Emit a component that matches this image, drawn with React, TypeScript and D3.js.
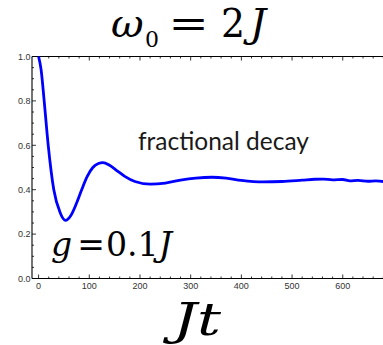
import React from "react";
import * as d3 from "d3";

// Survival fraction vs. dimensionless time Jt
const times = [0, 5, 11, 19, 30, 42, 53, 64, 75, 85, 96, 107, 118, 127, 140, 155, 170, 190, 220, 250, 280, 310, 342, 370, 400, 443, 480, 520, 545, 561, 580, 600, 614, 630, 650, 665, 680, 700];
const survival = [1.0, 0.94, 0.8, 0.6, 0.4, 0.3, 0.262, 0.285, 0.34, 0.4, 0.46, 0.5, 0.518, 0.522, 0.51, 0.485, 0.46, 0.437, 0.425, 0.43, 0.443, 0.452, 0.456, 0.452, 0.442, 0.435, 0.437, 0.443, 0.447, 0.448, 0.444, 0.446, 0.44, 0.442, 0.438, 0.44, 0.437, 0.437];

const xTicks = [0, 100, 200, 300, 400, 500, 600];
const yTicks = [0, 0.2, 0.4, 0.6, 0.8, 1.0];

const W = 383;
const H = 345;

const mathFont = "DejaVu Serif, serif";

// A slightly widened "=" sign, closer to TeX math spacing
function Equals({ cx, y, size, sx }: { cx: number; y: number; size: number; sx: number }) {
  return (
    <text
      transform={`translate(${cx},${y}) scale(${sx},1)`}
      textAnchor="middle"
      fontFamily={mathFont}
      fontSize={size}
      fill="#000"
    >
      =
    </text>
  );
}

export default function App() {
  const x = d3.scaleLinear().domain([-13, 680]).range([32, 383.3]);
  const y = d3.scaleLinear().domain([0, 1]).range([278.5, 56.5]);

  const line = d3
    .line<number>()
    .x((_, i) => x(times[i]))
    .y((d) => y(d))
    .curve(d3.curveMonotoneX);

  const xMinor = d3.range(0, 700, 20).filter((v) => !xTicks.includes(v));
  const yMinor = d3.range(0, 1.0001, 0.05).filter((v) => !yTicks.some((t) => Math.abs(t - v) < 1e-6));

  const left = x.range()[0];
  const right = W;
  const top = y(1);
  const bottom = y(0);

  const tickFont = "Liberation Sans, Arial, sans-serif";

  return (
    <svg
      width={W}
      height={H}
      style={{ position: "absolute", left: 0, top: 0, background: "#fff" }}
    >
      <defs>
        <clipPath id="plot">
          <rect x={left} y={top - 4} width={right - left} height={bottom - top + 8} />
        </clipPath>
      </defs>

      {/* frame */}
      <g stroke="#000" strokeWidth={1.1} fill="none">
        <line x1={left} x2={right} y1={bottom} y2={bottom} />
        <line x1={left} x2={right} y1={top} y2={top} />
        <line x1={left} x2={left} y1={top} y2={bottom} />
      </g>

      {/* ticks on the bottom, top and left edges */}
      <g stroke="#000" strokeWidth={0.8}>
        {xTicks.map((t) => (
          <g key={"xt" + t}>
            <line x1={x(t)} x2={x(t)} y1={bottom} y2={bottom - 4} />
            <line x1={x(t)} x2={x(t)} y1={top} y2={top + 4} />
          </g>
        ))}
        {xMinor.map((t) => (
          <g key={"xm" + t}>
            <line x1={x(t)} x2={x(t)} y1={bottom} y2={bottom - 2} />
            <line x1={x(t)} x2={x(t)} y1={top} y2={top + 2} />
          </g>
        ))}
        {yTicks.map((t) => (
          <line key={"yt" + t} x1={left} x2={left + 4} y1={y(t)} y2={y(t)} />
        ))}
        {yMinor.map((t) => (
          <line key={"ym" + t} x1={left} x2={left + 2} y1={y(t)} y2={y(t)} />
        ))}
      </g>

      {/* tick labels */}
      <g fontFamily={tickFont} fontSize={9} fill="#333">
        {xTicks.map((t) => (
          <text key={"xl" + t} x={x(t)} y={bottom + 10.5} textAnchor="middle">
            {t}
          </text>
        ))}
        {yTicks.map((t) => (
          <text key={"yl" + t} x={left - 1.5} y={y(t) + 3.2} textAnchor="end">
            {t.toFixed(1)}
          </text>
        ))}
      </g>

      {/* decay curve */}
      <path
        d={line(survival) ?? ""}
        fill="none"
        stroke="#0000ff"
        strokeWidth={2.8}
        strokeLinejoin="round"
        clipPath="url(#plot)"
      />

      {/* title: ω0 = 2J */}
      <text x={111} y={37.3} fontFamily={mathFont} fontSize={40} fontStyle="italic" fill="#000">
        ω
      </text>
      <text x={145} y={46.7} fontFamily={mathFont} fontSize={22} fill="#000">
        0
      </text>
      <Equals cx={188.5} y={37.3} size={40} sx={1.2} />
      <text x={221} y={37.3} fontFamily={mathFont} fontSize={40} fill="#000" textLength={24} lengthAdjust="spacingAndGlyphs">
        2
      </text>
      <text x={250} y={37.3} fontFamily={mathFont} fontSize={40} fontStyle="italic" fill="#000">
        J
      </text>

      {/* annotations */}
      <text x={138} y={150} fontFamily="Lato, Noto Sans, sans-serif" fontSize={24.5} fill="#1a1a1a">
        fractional decay
      </text>

      <text x={51} y={256} fontFamily={mathFont} fontSize={33} fontStyle="italic" fill="#000">
        g
      </text>
      <Equals cx={91} y={256} size={33} sx={1.0} />
      <text x={106} y={256} fontFamily={mathFont} fontSize={33} fill="#000" textLength={66} lengthAdjust="spacingAndGlyphs">
        0.1<tspan fontStyle="italic">J</tspan>
      </text>

      {/* x-axis label */}
      <text x={173} y={335} fontFamily={mathFont} fontSize={44} fontStyle="italic" fill="#000" textLength={48} lengthAdjust="spacingAndGlyphs">
        Jt
      </text>
    </svg>
  );
}
